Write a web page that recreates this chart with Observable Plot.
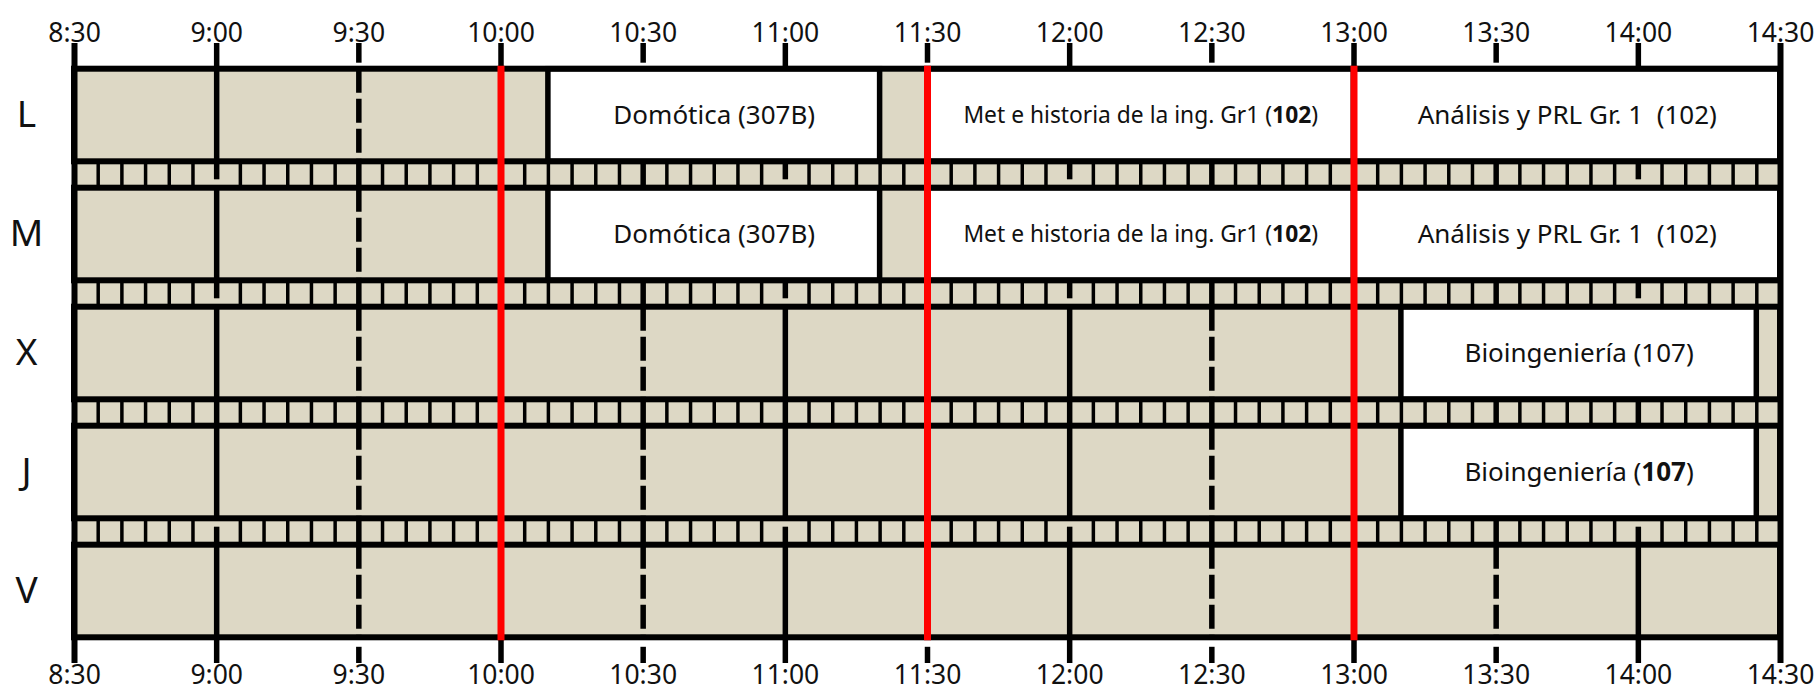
<!DOCTYPE html>
<html>
<head>
<meta charset="utf-8">
<script src="https://cdn.jsdelivr.net/npm/d3@7"></script>
<script src="https://cdn.jsdelivr.net/npm/@observablehq/plot@0.6"></script>
<style>
  html, body { margin: 0; padding: 0; background: #fff; }
  #chart svg { display: block; }
  #chart svg text { white-space: pre; }
</style>
</head>
<body>
<div id="chart"></div>
<script>
// ---- data ----
const days = ["L", "M", "X", "J", "V"];
const timeLabels = ["8:30","9:00","9:30","10:00","10:30","11:00","11:30","12:00","12:30","13:00","13:30","14:00","14:30"];
const courseDay   = ["L", "L", "L", "M", "M", "M", "X", "J"];
const courseStart = ["10:10", "11:30", "13:00", "10:10", "11:30", "13:00", "13:10", "13:10"];
const courseEnd   = ["11:20", "13:00", "14:30", "11:20", "13:00", "14:30", "14:25", "14:25"];
const courseLabel = [
  "Domótica (307B)",
  "Met e historia de la ing. Gr1 (**102**)",
  "Análisis y PRL Gr. 1  (102)",
  "Domótica (307B)",
  "Met e historia de la ing. Gr1 (**102**)",
  "Análisis y PRL Gr. 1  (102)",
  "Bioingeniería (107)",
  "Bioingeniería (**107**)"
];
const markerTimes = ["10:00", "11:30", "13:00"];

// ---- helpers ----
const toMin = s => { const [h, m] = s.split(":").map(Number); return h * 60 + m; };
const courses = courseDay.map((d, i) => ({
  day: d, start: toMin(courseStart[i]), end: toMin(courseEnd[i]), label: courseLabel[i]
}));

const W = 1817, H = 695;
const mTop = 43, mBottom = 32, mLeft = 74, mRight = 37;
const padIn = 0.2218, padOut = 0.216;
const band = d3.scaleBand().domain(days).range([mTop, H - mBottom])
  .paddingInner(padIn).paddingOuter(padOut).round(false);
const bw = band.bandwidth();
const gap = band.step() - bw;
const outer = band(days[0]) - mTop;

const ticks = timeLabels.map(toMin);
const t0 = ticks[0], t1 = ticks[ticks.length - 1];
const hours = ticks.filter(t => t % 60 === 0);
const halves = ticks.filter(t => t % 60 === 30 && t > t0 && t < t1);
const edges = [t0, t1];
const stripDays = days.slice(0, -1);
const lastDay = days[days.length - 1];
const cross = (ts, ds) => ds.flatMap(d => ts.map(t => ({t, d})));
const dividers = d3.range(t0 + 5, t1, 5).filter(t => t % 60 !== 0);

const BEIGE = "#ddd8c5";
const INK = "#000";
const LW = 5.5;

const plot = Plot.plot({
  width: W, height: H,
  marginTop: mTop, marginBottom: mBottom, marginLeft: mLeft, marginRight: mRight,
  style: {fontFamily: "'Noto Sans', sans-serif", color: "#111", background: "#fff"},
  x: {type: "linear", domain: [t0, t1], axis: null},
  y: {type: "band", domain: days, paddingInner: padIn, paddingOuter: padOut, round: false, axis: null},
  marks: [
    // beige rows (extended through the strips)
    Plot.barX(stripDays, {x1: () => t0, x2: () => t1, y: d => d, fill: BEIGE, insetBottom: -gap}),
    Plot.barX([lastDay], {x1: () => t0, x2: () => t1, y: d => d, fill: BEIGE}),
    // 5-minute dividers in strips
    Plot.ruleX(cross(dividers, stripDays), {x: "t", y1: "d", y2: "d", insetTop: bw, insetBottom: -gap, stroke: INK, strokeWidth: 3.5}),
    // half hours: dashed in rows, solid through strips
    Plot.ruleX(cross(halves, days), {x: "t", y1: "d", y2: "d", stroke: INK, strokeWidth: LW, strokeDasharray: "24,6"}),
    Plot.ruleX(cross(halves, stripDays), {x: "t", y1: "d", y2: "d", insetTop: bw, insetBottom: -gap, stroke: INK, strokeWidth: LW}),
    // hours: solid in rows, partial into strips
    Plot.ruleX(cross(hours, days), {x: "t", y1: "d", y2: "d", stroke: INK, strokeWidth: LW}),
    Plot.ruleX(cross(hours, ["L", "M"]), {x: "t", y1: "d", y2: "d", insetTop: bw, insetBottom: -18, stroke: INK, strokeWidth: LW}),
    Plot.ruleX(cross(hours, ["X"]), {x: "t", y1: "d", y2: "d", insetTop: bw, insetBottom: -gap, stroke: INK, strokeWidth: LW}),
    Plot.ruleX(cross(hours, ["J"]), {x: "t", y1: "d", y2: "d", insetTop: bw + gap - 18, insetBottom: -gap, stroke: INK, strokeWidth: LW}),
    // tick stubs above and below
    Plot.ruleX(hours, {x: d => d, y1: () => days[0], y2: () => days[0], insetTop: -outer, insetBottom: bw, stroke: INK, strokeWidth: LW}),
    Plot.ruleX(halves, {x: d => d, y1: () => days[0], y2: () => days[0], insetTop: -outer, insetBottom: bw + 6, stroke: INK, strokeWidth: LW}),
    Plot.ruleX(hours, {x: d => d, y1: () => lastDay, y2: () => lastDay, insetTop: bw, insetBottom: -outer, stroke: INK, strokeWidth: LW}),
    Plot.ruleX(halves, {x: d => d, y1: () => lastDay, y2: () => lastDay, insetTop: bw + 9.5, insetBottom: -outer, stroke: INK, strokeWidth: LW}),
    // outer frame verticals
    Plot.ruleX(edges, {x: d => d, stroke: INK, strokeWidth: 6}),
    // class boxes
    Plot.barX(courses, {x1: "start", x2: "end", y: "day", fill: "#fff", stroke: INK, strokeWidth: 5.5}),
    // row borders
    Plot.barX(days, {x1: () => t0, x2: () => t1, y: d => d, fill: "none", stroke: INK, strokeWidth: 6}),
    // red markers
    Plot.ruleX(markerTimes, {x: toMin, y1: () => days[0], y2: () => lastDay, insetTop: -3, insetBottom: -3, stroke: "#ff0000", strokeWidth: 7}),
    // class labels
    Plot.text(courses.filter(c => c.label.length <= 30), {x: c => (c.start + c.end) / 2, y: "day", text: "label", fontSize: 26, fill: "#111"}),
    Plot.text(courses.filter(c => c.label.length > 30), {x: c => (c.start + c.end) / 2, y: "day", text: "label", fontSize: 22.8, fill: "#111"}),
    // day labels
    Plot.text(days, {y: d => d, text: d => d, frameAnchor: "left", dx: -48, textAnchor: "middle", fontSize: 37, fill: "#111"}),
    // time labels top and bottom
    Plot.text(timeLabels, {x: toMin, text: d => d, frameAnchor: "top", dy: -20.5, fontSize: 26.5, fill: "#111"}),
    Plot.text(timeLabels, {x: toMin, text: d => d, frameAnchor: "bottom", dy: 20, fontSize: 26.5, fill: "#111"})
  ]
});

// bold room numbers marked with **…**
const svgNS = "http://www.w3.org/2000/svg";
plot.querySelectorAll("text").forEach(t => {
  const s = t.textContent;
  if (s.includes("**")) {
    const parts = s.split("**");
    t.textContent = "";
    parts.forEach((p, i) => {
      const ts = document.createElementNS(svgNS, "tspan");
      ts.textContent = p;
      if (i % 2 === 1) ts.setAttribute("font-weight", "bold");
      t.appendChild(ts);
    });
  }
});

document.getElementById("chart").appendChild(plot);
</script>
</body>
</html>
